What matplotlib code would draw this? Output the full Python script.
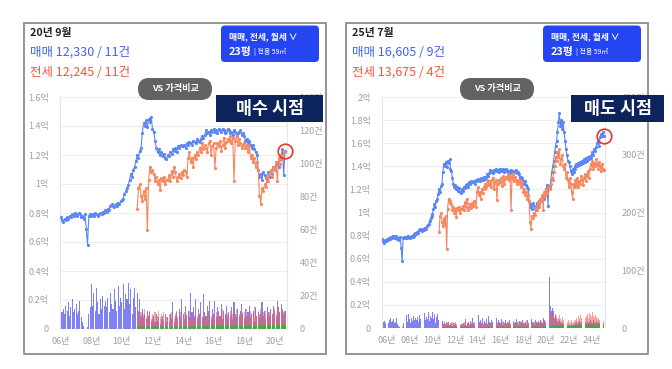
import numpy as np
import matplotlib
matplotlib.use('Agg')
import matplotlib.pyplot as plt
from matplotlib.patches import FancyBboxPatch, Rectangle

plt.rcParams['font.family'] = ['Noto Sans CJK KR', 'DejaVu Sans']

# ---------------- data ----------------
START_SALE = 2006   # monthly, from 2006-01
START_RENT = 2011   # monthly, from 2011-01

sale_price = [  # 억 원
    0.77,0.75,0.74,0.76,0.75,0.77,0.76,0.78,0.77,0.79,0.78,0.80,
    0.79,0.78,0.80,0.79,0.77,0.78,0.76,0.79,0.69,0.58,0.78,0.79,
    0.78,0.79,0.78,0.80,0.79,0.78,0.79,0.80,0.79,0.81,0.80,0.82,
    0.81,0.83,0.82,0.85,0.86,0.85,0.84,0.86,0.85,0.87,0.86,0.88,
    0.89,0.90,0.93,0.95,0.97,0.99,1.03,1.07,1.05,1.10,1.12,1.16,
    1.20,1.18,1.23,1.25,1.35,1.42,1.40,1.44,1.39,1.45,1.43,1.46,
    1.38,1.36,1.30,1.25,1.22,1.24,1.20,1.22,1.19,1.21,1.18,1.17,
    1.20,1.19,1.22,1.21,1.24,1.23,1.25,1.22,1.26,1.25,1.27,1.26,
    1.26,1.27,1.25,1.28,1.27,1.29,1.28,1.27,1.30,1.29,1.28,1.31,
    1.30,1.29,1.31,1.33,1.32,1.34,1.37,1.35,1.36,1.34,1.37,1.36,
    1.38,1.36,1.37,1.35,1.38,1.37,1.36,1.38,1.37,1.35,1.36,1.38,
    1.37,1.35,1.36,1.34,1.37,1.36,1.33,1.35,1.36,1.37,1.34,1.35,
    1.33,1.30,1.31,1.28,1.30,1.27,1.25,1.27,1.24,1.22,1.20,1.10,
    1.05,1.07,1.03,1.08,1.06,1.04,1.02,1.08,1.05,1.10,1.07,1.12,
    1.10,1.13,1.15,1.12,1.17,1.20,1.24,1.06,1.23,1.22,1.28,1.35,
    1.40,1.45,1.52,1.58,1.62,1.70,1.78,1.86,1.75,1.80,1.72,1.78,
    1.70,1.62,1.55,1.50,1.45,1.44,1.40,1.36,1.33,1.38,1.35,1.40,
    1.38,1.42,1.40,1.43,1.41,1.44,1.42,1.45,1.43,1.46,1.44,1.47,
    1.45,1.48,1.46,1.49,1.47,1.50,1.52,1.50,1.55,1.53,1.57,1.60,
    1.62,1.58,1.65,1.68,1.66,1.70,1.66,
]

jeonse_price = [  # 억 원
    0.83,0.97,1.00,0.92,0.88,0.95,0.90,0.97,0.68,1.03,1.12,1.08,
    1.10,1.07,1.02,1.05,1.00,1.03,0.96,1.04,1.02,1.05,1.00,1.03,
    1.03,1.06,1.02,1.09,1.05,1.12,1.08,1.02,1.05,1.07,1.04,1.08,
    1.06,1.10,1.08,1.05,1.18,1.22,1.15,1.18,1.12,1.20,1.17,1.22,
    1.20,1.25,1.22,1.28,1.24,1.27,1.25,1.22,1.28,1.30,1.20,1.26,
    1.28,1.11,1.25,1.28,1.26,1.30,1.23,1.27,1.32,1.25,1.29,1.31,
    1.30,1.33,1.28,1.32,1.02,1.30,1.33,1.27,1.31,1.28,1.25,1.27,
    1.28,1.25,1.27,1.22,1.26,1.18,1.20,1.15,1.18,1.12,1.15,1.10,
    0.92,0.86,0.97,0.95,1.00,0.98,1.05,1.02,1.08,1.10,1.05,1.12,
    1.10,1.15,1.02,1.18,1.14,1.20,1.17,1.22,1.22,1.20,1.25,1.30,
    1.28,1.35,1.40,1.48,1.45,1.52,1.48,1.55,1.42,1.46,1.50,1.40,
    1.38,1.42,1.30,1.35,1.28,1.22,1.30,1.25,1.18,1.12,1.25,1.22,
    1.28,1.24,1.30,1.22,1.27,1.25,1.32,1.28,1.24,1.30,1.33,1.27,
    1.32,1.36,1.30,1.38,1.42,1.40,1.45,1.38,1.43,1.40,1.46,1.42,
    1.38,1.44,1.40,1.36,1.42,1.38,1.37,
]

sale_count = [  # 건
    6,10,12,9,14,11,16,8,13,18,10,12,
    15,9,11,17,7,4,2,0,0,1,9,13,
    27,14,22,11,25,16,9,18,12,20,14,17,
    13,19,10,22,15,12,24,17,11,26,14,19,
    16,27,12,21,18,28,15,24,9,19,25,13,
    22,10,18,8,12,7,9,6,11,8,10,5,
    6,8,4,9,5,7,3,6,8,5,9,4,
    7,5,9,6,16,4,8,10,6,12,7,18,
    9,6,14,8,11,7,22,10,13,8,18,6,
    12,9,16,7,21,10,8,14,11,17,6,12,
    9,17,7,13,10,8,15,6,11,9,14,7,
    10,8,13,6,16,9,7,12,8,11,15,9,
    6,12,8,10,14,7,9,11,5,13,8,10,
    7,9,16,8,11,6,13,10,8,12,9,14,
    11,8,17,13,10,15,12,9,11,88,38,30,
    35,30,18,22,15,12,10,14,8,11,9,7,
    5,4,6,3,5,4,6,3,4,5,3,6,
    8,10,7,9,12,8,10,7,9,11,8,10,
    9,12,8,10,14,11,9,13,10,8,12,9,
    11,8,13,10,12,9,9,
]

jeonse_count = [  # 건
    8,11,7,10,6,9,12,7,10,8,11,6,
    9,7,10,6,8,11,7,9,6,10,8,7,
    6,9,7,10,8,6,9,11,7,8,10,6,
    8,10,6,9,7,11,8,6,10,7,9,8,
    7,9,11,6,8,10,7,9,6,11,8,10,
    9,6,10,8,11,7,9,12,8,6,10,9,
    8,11,7,9,10,6,12,8,9,11,7,10,
    10,8,12,7,9,11,8,10,13,9,7,11,
    9,12,8,10,7,11,13,9,10,12,8,11,
    12,9,11,13,10,8,12,10,9,20,25,22,
    28,22,18,25,20,15,18,22,16,12,19,14,
    10,12,15,9,11,14,8,10,13,9,11,12,
    14,18,12,20,16,22,18,25,19,15,21,17,
    20,24,18,26,22,19,27,21,17,23,19,15,
    18,14,20,16,13,17,12,
]

wolse_count = [  # 건
    1,2,1,1,2,1,2,1,1,2,1,2,
    2,1,2,1,1,2,1,2,2,1,2,1,
    1,2,1,2,1,1,2,1,2,1,2,2,
    2,1,2,2,1,2,1,2,1,2,2,1,
    2,2,1,2,3,1,2,2,1,2,2,3,
    2,1,2,3,2,2,1,2,3,2,1,2,
    3,2,2,1,2,3,2,2,3,1,2,2,
    2,3,2,2,3,1,2,3,2,2,3,2,
    3,2,2,3,2,3,2,2,3,2,3,2,
    2,3,3,2,3,2,3,3,2,4,3,4,
    5,4,6,3,5,4,6,5,4,5,6,4,
    4,5,3,6,4,5,4,3,5,4,6,5,
    5,6,4,5,7,5,6,4,5,6,5,7,
    6,5,7,6,5,6,7,5,6,7,6,5,
    6,7,5,6,7,6,5,
]

left_header = ['20년 9월', '매매 12,330 / 11건', '전세 12,245 / 11건']
right_header = ['25년 7월', '매매 16,605 / 9건', '전세 13,675 / 4건']
left_tag = '매수 시점'
right_tag = '매도 시점'

# ---------------- figure ----------------
W, H = 672, 369
fig = plt.figure(figsize=(W / 100, H / 100), dpi=100)

BLUE = '#5a86f6'
ORANGE = '#f7875f'
LBL = '#a0a0a0'


def frect(x0, y0, x1, y1):
    return [x0 / W, 1 - y1 / H, (x1 - x0) / W, (y1 - y0) / H]


def price_fmt(v):
    if abs(v) < 1e-9:
        return '0'
    if abs(v - round(v)) < 1e-9:
        return f'{int(round(v))}억'
    return f'{v:.1f}억'


def panel(rect, n_months, ymax, cmax, cstep, xmin, xmax, tick_years, tick_off, rpad):
    ax = fig.add_axes(rect)
    ax2 = ax.twinx()
    ax.set_zorder(ax2.get_zorder() + 1)
    ax.patch.set_visible(False)

    ns = n_months
    nr = n_months - (START_RENT - START_SALE) * 12
    ts = START_SALE + np.arange(ns) / 12
    tr = START_RENT + np.arange(nr) / 12
    bw = 0.85 / 12

    pticks = np.round(np.arange(0, ymax + 1e-9, 0.2), 1)
    for v in pticks:
        ax2.axhline(v / ymax * cmax, color='#ededed', lw=0.8, zorder=0)

    ax2.bar(ts, sale_count[:ns], width=bw, color='#5656f2', alpha=0.75, linewidth=0, zorder=2)
    ax2.bar(tr, jeonse_count[:nr], width=bw, color='#f2605a', alpha=0.6, linewidth=0, zorder=3)
    ax2.bar(tr, wolse_count[:nr], width=bw, color='#3aae3a', alpha=0.9, linewidth=0, zorder=4)

    ax.plot(ts, sale_price[:ns], '-o', color=BLUE, lw=0.8, ms=2.3, mew=0, zorder=3)
    ax.plot(tr, jeonse_price[:nr], '-o', color=ORANGE, lw=0.8, ms=2.3, mew=0, zorder=4)
    ax.plot(ts[-1], sale_price[ns - 1], 'o', mfc='none', mec='#e8322a', ms=10.5, mew=1.2,
            zorder=5, clip_on=False)

    ax.set_xlim(xmin, xmax)
    ax.set_ylim(0, ymax)
    ax2.set_ylim(0, cmax)

    ax.set_yticks(pticks)
    ax.set_yticklabels([price_fmt(v) for v in pticks])
    cticks = np.arange(0, cmax + 1, cstep)
    ax2.set_yticks(cticks)
    ax2.set_yticklabels(['0' if c == 0 else f'{int(c)}건' for c in cticks])
    ax.set_xticks([y + tick_off for y in tick_years])
    ax.set_xticklabels([f'{y % 100:02d}년' for y in tick_years])

    for a in (ax, ax2):
        for s in a.spines.values():
            s.set_visible(False)
    for side in ('left', 'right'):
        ax2.spines[side].set_visible(True)
        ax2.spines[side].set_color('#e6e6e6')
        ax2.spines[side].set_linewidth(0.8)

    ax.tick_params(axis='y', length=0, pad=8, labelsize=6.5, labelcolor=LBL)
    ax.tick_params(axis='x', length=0, pad=6, labelsize=6.5, labelcolor=LBL)
    ax2.tick_params(axis='y', length=0, pad=rpad, labelsize=6.5, labelcolor=LBL)
    return ax, ax2


panel(frect(60, 97, 287, 329), 177, 1.6, 140, 20, 2005.95, 2020.8,
      list(range(2006, 2021, 2)), 0.0, 9)
panel(frect(381.7, 97, 605, 328), 235, 2.0, 400, 100, 2005.95, 2025.6,
      list(range(2006, 2025, 2)), 0.4, 12)

# ---------------- overlay (pixel coordinates) ----------------
ov = fig.add_axes([0, 0, 1, 1], zorder=20)
ov.set_xlim(0, W)
ov.set_ylim(H, 0)
ov.axis('off')
ov.patch.set_visible(False)


def overlay(x0, header, tag, tag_box):
    # panel frame
    ov.add_patch(Rectangle((x0 - 6, 23), 302, 331, fill=False, ec='#8c8c8c', lw=1.3, zorder=1))
    ov.text(x0, 33, header[0], fontsize=7.8, fontweight='bold', color='#222222', va='center', ha='left')
    ov.text(x0, 52.5, header[1], fontsize=9, color='#3f63f7', va='center', ha='left')
    ov.text(x0, 72.5, header[2], fontsize=9, color='#f5553a', va='center', ha='left')
    # dropdown box
    bx = x0 + 191
    ov.add_patch(FancyBboxPatch((bx, 25.5), 98, 36.5, boxstyle='round,pad=0,rounding_size=4',
                                fc='#2545f2', ec='none', zorder=2))
    ov.text(bx + 8, 37, '매매, 전세, 월세 ∨', fontsize=6.3, fontweight='bold', color='white',
            va='center', ha='left', zorder=3)
    ov.text(bx + 8, 52, '23평', fontsize=7.8, fontweight='bold', color='white',
            va='center', ha='left', zorder=3)
    ov.text(bx + 33, 52.5, '| 전용 59㎡', fontsize=5, color='white', va='center', ha='left', zorder=3)
    # VS pill
    px = x0 + 108
    ov.add_patch(FancyBboxPatch((px, 78), 74, 22, boxstyle='round,pad=0,rounding_size=11',
                                fc='#626262', ec='none', zorder=2))
    ov.text(px + 37, 89, 'VS 가격비교', fontsize=6.6, fontweight='bold', color='white',
            va='center', ha='center', zorder=3)
    # tag box
    tx0, tx1 = tag_box
    ov.add_patch(Rectangle((tx0, 95), tx1 - tx0, 26.5, fc='#0c235c', ec='none', zorder=4))
    ov.text((tx0 + tx1) / 2, 108.5, tag, fontsize=12.5, fontweight='bold', color='white',
            va='center', ha='center', zorder=5)


overlay(30, left_header, left_tag, (216, 323))
overlay(352, right_header, right_tag, (571, 664))

fig.savefig('out.png', dpi=100, facecolor='white')
